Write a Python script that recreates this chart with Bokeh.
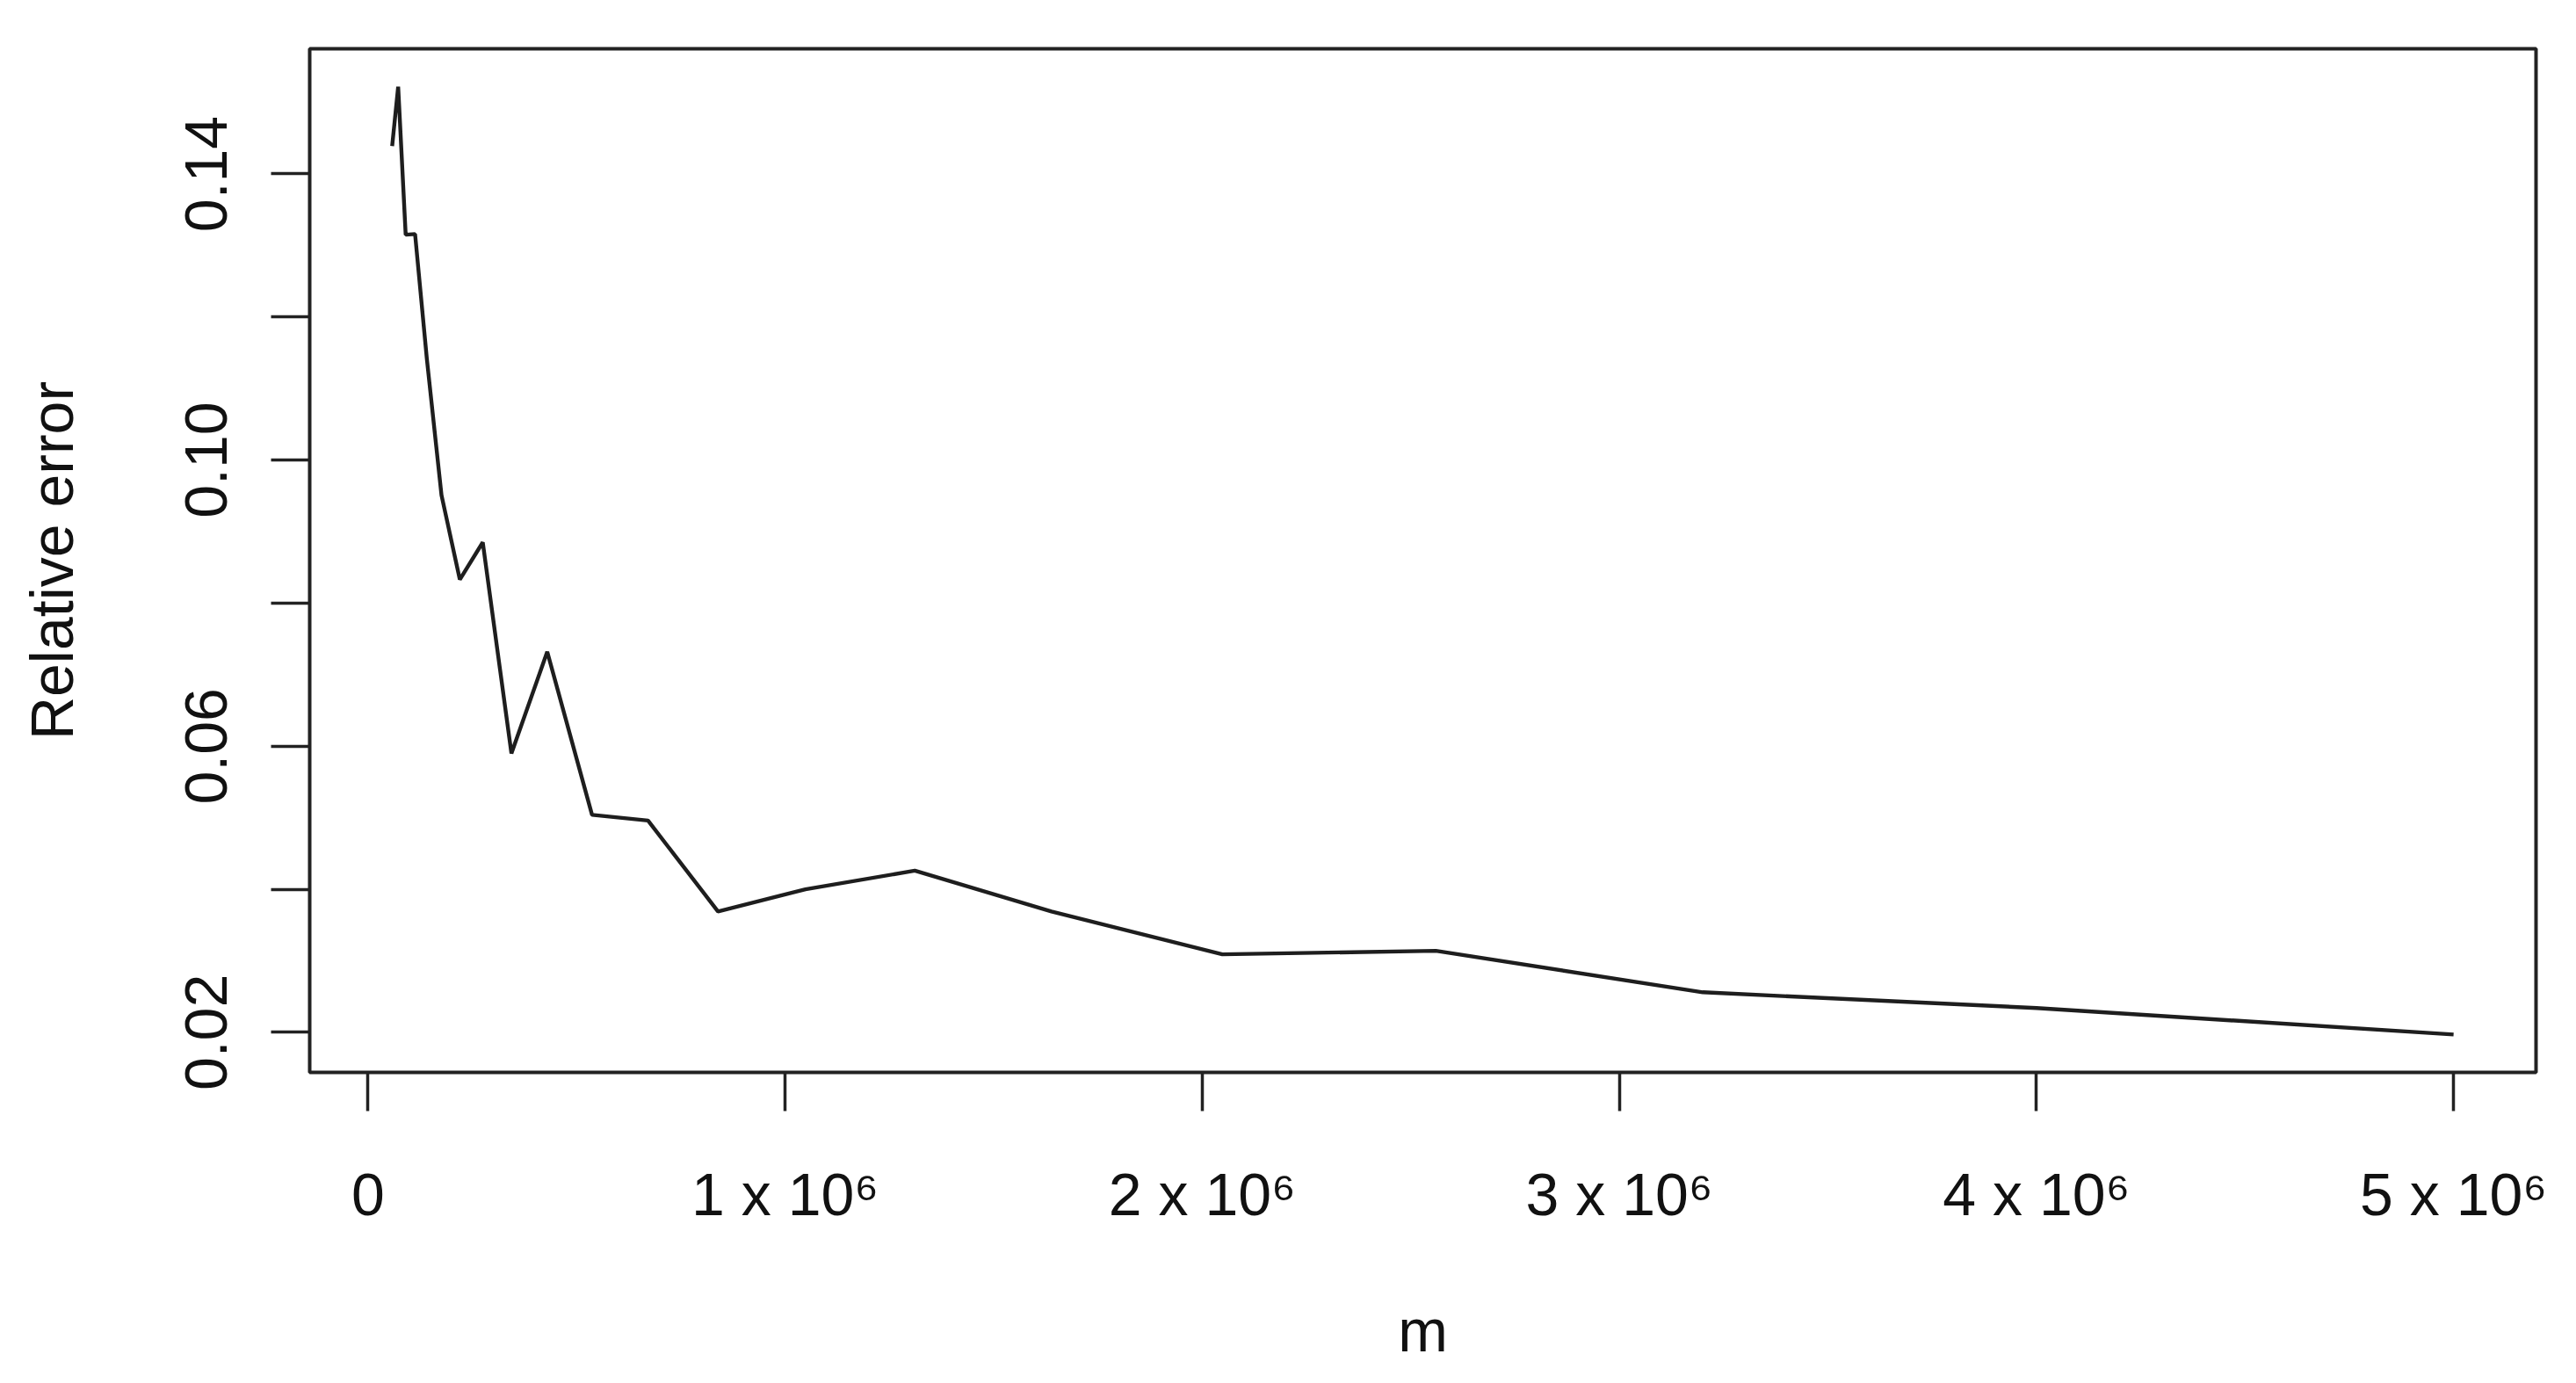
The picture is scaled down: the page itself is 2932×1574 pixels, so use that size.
from bokeh.plotting import figure
from bokeh.models import FixedTicker, Range1d
from bokeh.embed import file_html
from bokeh.resources import INLINE

# data
m_values = [57646, 72058, 90072, 112590, 140737, 175922, 219902, 274878, 343597,
            429497, 536871, 671089, 838861, 1048576, 1310720, 1638400, 2048000,
            2560000, 3200000, 4000000, 5000000]
rel_error = [0.1439, 0.1522, 0.1315, 0.1316, 0.1142, 0.0951, 0.0833, 0.0885, 0.0590,
             0.0732, 0.0504, 0.0496, 0.0369, 0.0400, 0.0426, 0.0369, 0.0309,
             0.0314, 0.0256, 0.0234, 0.0197]

x_ticks = [0, 1000000, 2000000, 3000000, 4000000, 5000000]
x_tick_labels = ["0", "1 x 10\u2076", "2 x 10\u2076", "3 x 10\u2076", "4 x 10\u2076", "5 x 10\u2076"]
y_ticks = [0.02, 0.06, 0.10, 0.14]
y_tick_labels = ["0.02", "0.06", "0.10", "0.14"]
y_minor_ticks = [0.04, 0.08, 0.12]

x_label = "m"
y_label = "Relative error"

FONT = "Liberation Sans"
FS = "68px"
TXT = "#111111"

xpad = 0.04 * (max(m_values) - min(m_values))
ypad = 0.04 * (max(rel_error) - min(rel_error))

p = figure(frame_width=2534, frame_height=1165,
           x_range=Range1d(min(m_values) - xpad, max(m_values) + xpad),
           y_range=Range1d(min(rel_error) - ypad, max(rel_error) + ypad),
           output_backend="svg", toolbar_location=None,
           min_border_left=352, min_border_right=30,
           min_border_top=55, min_border_bottom=338,
           background_fill_color="white", border_fill_color="white")

p.grid.visible = False
p.outline_line_color = "#222222"
p.outline_line_width = 4
p.outline_line_alpha = 1.0

p.line(m_values, rel_error, line_color="#1e1e1e", line_width=4.4)

xa = p.xaxis[0]
xa.ticker = FixedTicker(ticks=x_ticks)
xa.major_label_overrides = {t: l for t, l in zip(x_ticks, x_tick_labels)}
ya = p.yaxis[0]
ya.ticker = FixedTicker(ticks=y_ticks, minor_ticks=y_minor_ticks)
ya.major_label_overrides = {t: l for t, l in zip(y_ticks, y_tick_labels)}
ya.major_label_orientation = "vertical"

for ax in (xa, ya):
    ax.axis_line_color = None
    ax.major_tick_in = 0
    ax.major_tick_out = 44
    ax.major_tick_line_width = 3.5
    ax.major_tick_line_color = "#222222"
    ax.minor_tick_in = 0
    ax.minor_tick_out = 44
    ax.minor_tick_line_width = 3.5
    ax.minor_tick_line_color = "#222222"
    ax.major_label_text_font = FONT
    ax.major_label_text_font_size = FS
    ax.major_label_text_color = TXT
    ax.axis_label_text_font = FONT
    ax.axis_label_text_font_size = FS
    ax.axis_label_text_font_style = "normal"
    ax.axis_label_text_color = TXT

xa.minor_tick_out = 0
xa.axis_label = x_label
xa.major_label_standoff = 56
xa.axis_label_standoff = 76
ya.axis_label = y_label
ya.major_label_standoff = 50
ya.axis_label_standoff = 112

open("out.html", "w").write(file_html(p, INLINE))
